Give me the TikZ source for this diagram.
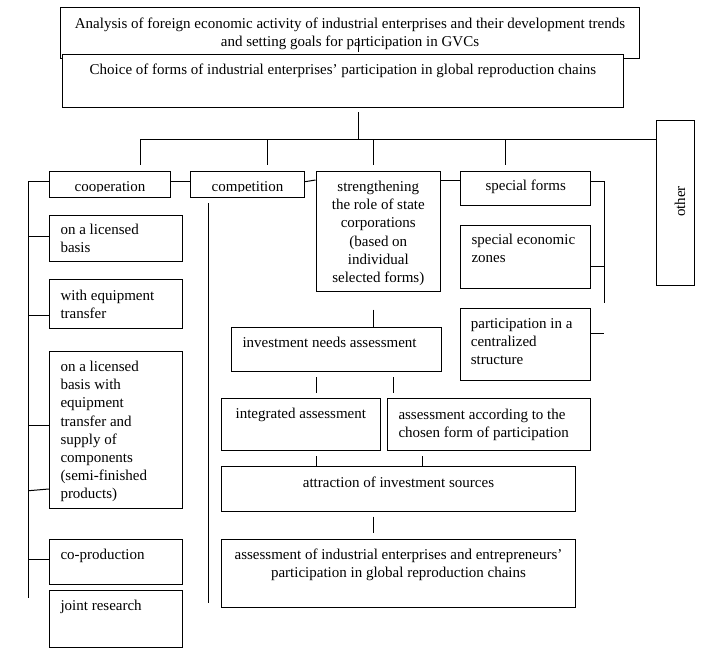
\documentclass[tikz,border=0pt]{standalone}
\usepackage{fontspec}
\setmainfont{Liberation Serif}
\usetikzlibrary{fit}
\tikzset{
  bx/.style={draw, fill=white, inner sep=0pt, line width=1pt},
  tx/.style={inner sep=0pt, font=\fontsize{15}{18.2}\selectfont},
  ln/.style={line width=1pt},
}
\begin{document}
\begin{tikzpicture}[x=1pt,y=-1pt]
\useasboundingbox (0,0) rectangle (704,653);
% top boxes
\node[bx, fit={(60.7,7.3) (639.3,58.3)}] (b1) {};
\node[tx, anchor=north, align=center] (b1t) at (350,15.06) {\strut Analysis of foreign economic activity of industrial enterprises and their development trends\\and setting goals for participation in GVCs};
\coordinate (tk) at (358.7,38.3);
\draw[ln] (tk) -- ++(0,13.4);
\node[bx, fit={(62.7,54.3) (623.3,107.3)}] (b2) {};
\node[tx, anchor=north] (b2t) at (343,61.8) {\strut Choice of forms of industrial enterprises’ participation in global reproduction chains};
% other
\node[bx, fit={(656.7,120.5) (694.3,285.3)}] (oth) {};
\node[tx, rotate=90] (otht) at (680,201.5) {other};
% main bus
\coordinate (mx) at (358.7,139);
\draw[ln, shorten <=4.4pt] (b2.south -| mx) -- (mx);
\coordinate (d1) at (140,139);
\coordinate (d2) at (267.3,139);
\coordinate (d3) at (373.3,139);
\coordinate (d4) at (505,139);
\draw[ln] (d1) -- (d1 -| oth.west);
% row boxes
\node[bx, fit={(49.3,171.7) (170.7,197.3)}] (coop) {};
\node[bx, fit={(190.3,171.7) (304.7,197.3)}] (comp) {};
\node[bx, fit={(316,171.7) (440.7,291.3)}] (str) {};
\node[bx, fit={(460.7,171.7) (590.7,205.7)}] (spec) {};
\begin{scope}
\clip (49,171) rectangle (305,191);
\node[tx, anchor=north] (coopt) at (110,178.8) {\strut cooperation};
\node[tx, anchor=north] (compt) at (247.5,178.8) {\strut competition};
\end{scope}
\node[tx, anchor=north, align=center] (strt) at (378.3,178.5) {\strut strengthening\\the role of state\\corporations\\(based on\\individual\\selected forms)};
\node[tx, anchor=north] (spect) at (525.7,177.8) {\strut special forms};
\draw[ln, shorten >=6.7pt] (d1) -- (d1 |- coop.north);
\draw[ln, shorten >=6.7pt] (d2) -- (d2 |- comp.north);
\draw[ln, shorten >=6.7pt] (d3) -- (d3 |- str.north);
\draw[ln, shorten >=6.7pt] (d4) -- (d4 |- spec.north);
\draw[ln] (coop.east |- 0,181.7) -- (comp.west |- 0,181.7);
\draw[ln] (comp.east |- 0,181.7) -- (str.west |- 0,180);
\draw[ln] (str.east |- 0,180.7) -- (spec.west |- 0,180.7);
% cooperation column
\node[bx, fit={(49.3,215) (182.7,261)}] (s1) {};
\node[tx, anchor=north west, align=left] (s1t) at (60.3,221.8) {\strut on a licensed\\basis};
\node[bx, fit={(49.3,279) (182.7,328)}] (s2) {};
\node[tx, anchor=north west, align=left] (s2t) at (60.3,287.5) {\strut with equipment\\transfer};
\node[bx, fit={(49.3,351.7) (182.7,508.3)}] (s3) {};
\node[tx, anchor=north west, align=left] (s3t) at (60.3,358.5) {\strut on a licensed\\basis with\\equipment\\transfer and\\supply of\\components\\(semi-finished\\products)};
\node[bx, fit={(49.3,539.3) (182.7,584.3)}] (s4) {};
\node[tx, anchor=north west] (s4t) at (60.3,546.8) {\strut co-production};
\node[bx, fit={(49.3,590) (182.7,647)}] (s5) {};
\node[tx, anchor=north west] (s5t) at (60.3,597.8) {\strut joint research};
\coordinate (lx) at (28.7,598.3);
\draw[ln] (coop.west |- 0,181.7) -| (lx);
\draw[ln] (lx |- 0,236) -- (s1.west |- 0,236);
\draw[ln] (lx |- 0,315.7) -- (s2.west |- 0,315.7);
\draw[ln] (lx |- 0,425) -- (s3.west |- 0,425);
\draw[ln] (lx |- 0,490.7) -- (s3.west |- 0,489);
\draw[ln] (lx |- 0,559.3) -- (s4.west |- 0,559.3);
% competition line
\coordinate (cv) at (208.3,603.3);
\draw[ln] (comp.south -| cv) ++(0,5.4) -- (cv);
% special forms column
\node[bx, fit={(460.7,225.7) (590.7,288.3)}] (sez) {};
\node[tx, anchor=north west, align=left] (sezt) at (471.3,231.8) {\strut special economic\\zones};
\node[bx, fit={(460,308.3) (590.7,380.3)}] (part) {};
\node[tx, anchor=north west, align=left] (partt) at (470.7,315.1) {\strut participation in a\\centralized\\structure};
\coordinate (sb) at (604.3,303.3);
\draw[ln] (spec.east |- 0,181.7) -| (sb);
\draw[ln] (sez.east |- 0,266.7) -- (sb |- 0,266.7);
\draw[ln] (part.east |- 0,333.3) -- (sb |- 0,333.3);
% investment chain
\node[bx, fit={(231.3,327.3) (441.3,371.3)}] (inv) {};
\node[tx, anchor=north west] (invt) at (242.3,334.1) {\strut investment needs assessment};
\node[bx, fit={(221.3,398.3) (380.3,450.3)}] (integ) {};
\node[tx, anchor=north] (integt) at (300.8,405.1) {\strut integrated assessment};
\node[bx, fit={(387.3,398.3) (590.7,450.3)}] (acc) {};
\node[tx, anchor=north west, align=left] (acct) at (398.3,406.1) {\strut assessment according to the\\chosen form of participation};
\node[bx, fit={(221.3,466.7) (575.7,511.3)}] (attr) {};
\node[tx, anchor=north] (attrt) at (398.5,474.5) {\strut attraction of investment sources};
\node[bx, fit={(221.3,539) (575.7,607)}] (fin) {};
\node[tx, anchor=north, align=center] (fint) at (398.5,546.8) {\strut assessment of industrial enterprises and entrepreneurs’\\participation in global reproduction chains};
\draw[ln, shorten <=17.7pt] (str.south -| 373.3,0) -- (inv.north -| 373.3,0);
\draw[ln, shorten <=5.4pt, shorten >=5pt] (inv.south -| 316.3,0) -- (integ.north -| 316.3,0);
\draw[ln, shorten <=5.4pt, shorten >=5pt] (inv.south -| 393.3,0) -- (acc.north -| 393.3,0);
\draw[ln, shorten <=5.4pt] (integ.south -| 316.3,0) -- (attr.north -| 316.3,0);
\draw[ln, shorten <=5.4pt] (acc.south -| 422.3,0) -- (attr.north -| 422.3,0);
\draw[ln, shorten <=4.7pt, shorten >=5.7pt] (attr.south -| 373.3,0) -- (fin.north -| 373.3,0);
\end{tikzpicture}
\end{document}
